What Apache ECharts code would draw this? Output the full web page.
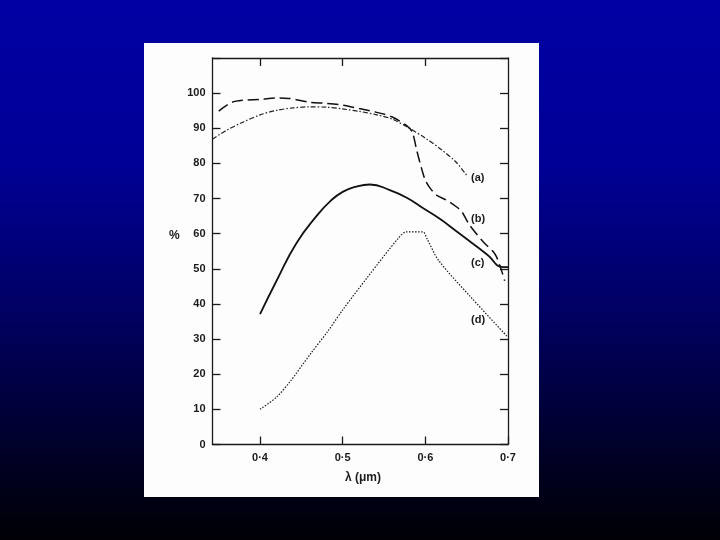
<!DOCTYPE html>
<html>
<head>
<meta charset="utf-8">
<script src="https://cdn.jsdelivr.net/npm/echarts@6/dist/echarts.min.js"></script>
<style>
html,body{margin:0;padding:0;background:#000;}
#chart{width:720px;height:540px;}
</style>
</head>
<body>
<div id="chart"></div>
<script>
// Wavelength (µm) and percentage values for each curve
const xA = [0.3425, 0.36, 0.38, 0.40, 0.42, 0.44, 0.46, 0.48, 0.50, 0.52, 0.54, 0.56, 0.577, 0.60, 0.62, 0.637, 0.651];
const yA = [86.9, 89.5, 91.8, 93.8, 95.1, 95.8, 96.1, 96.0, 95.5, 94.8, 93.9, 92.6, 90.5, 87.2, 83.8, 80.4, 76.3];

const xB = [0.35, 0.366, 0.38, 0.40, 0.42, 0.435, 0.46, 0.48, 0.50, 0.52, 0.54, 0.56, 0.577, 0.584, 0.590, 0.596, 0.600, 0.606, 0.614, 0.626, 0.638, 0.644, 0.654, 0.670, 0.684, 0.690, 0.696];
const yB = [94.9, 97.4, 98.0, 98.2, 98.6, 98.5, 97.4, 97.1, 96.6, 95.6, 94.6, 93.2, 90.8, 89.0, 83.3, 78.1, 75.2, 72.9, 70.9, 69.5, 67.6, 66.3, 62.3, 57.7, 54.3, 51.0, 46.6];

const xC = [0.40, 0.42, 0.444, 0.469, 0.486, 0.50, 0.515, 0.533, 0.557, 0.577, 0.597, 0.617, 0.636, 0.654, 0.675, 0.694, 0.70];
const yC = [37.1, 46.6, 57.3, 65.2, 69.5, 71.9, 73.3, 74.0, 72.4, 70.3, 67.3, 64.3, 61.0, 57.8, 54.0, 50.5, 50.5];

const xD = [0.40, 0.42, 0.437, 0.461, 0.481, 0.50, 0.53, 0.567, 0.577, 0.597, 0.602, 0.616, 0.656, 0.70];
const yD = [10, 13.5, 18.1, 25.8, 31.9, 38.3, 47.6, 58.6, 60.5, 60.5, 58.6, 52.4, 41.7, 30.5];

const xTicks = [0.4, 0.5, 0.6, 0.7];
const xTopTicks = [0.4, 0.5, 0.6];
const curveLabels = ['(a)', '(b)', '(c)', '(d)'];
const xAxisTitle = 'λ (μm)';
const yAxisTitle = '%';

const pairs = (xs, ys) => xs.map((x, i) => [x, ys[i]]);
const fmtX = v => v.toFixed(1).replace('.', '·');

const FONT = 'Liberation Sans, Arial, sans-serif';
const INK = '#1a1a1a';

const chart = echarts.init(document.getElementById('chart'), null, {renderer: 'canvas'});

const labelPos = [[471, 178], [471, 219], [471, 263], [471, 320]];

chart.setOption({
  animation: false,
  backgroundColor: 'transparent',
  graphic: [
    {
      type: 'rect', z: -20, silent: true,
      shape: {x: 0, y: 0, width: 720, height: 540},
      style: {
        fill: new echarts.graphic.LinearGradient(0, 0, 0, 1, [
          {offset: 0, color: '#0000a3'},
          {offset: 0.3, color: '#000096'},
          {offset: 0.55, color: '#000068'},
          {offset: 0.8, color: '#000030'},
          {offset: 1, color: '#000004'}
        ])
      }
    },
    {
      type: 'rect', z: -10, silent: true,
      shape: {x: 144, y: 43, width: 395, height: 454},
      style: {fill: '#fdfdfd'}
    },
    {
      type: 'text', left: 169, top: 230,
      style: {text: yAxisTitle, font: 'bold 12px ' + FONT, fill: INK}
    },
    {
      type: 'text', left: 345, top: 472,
      style: {text: xAxisTitle, font: 'bold 12px ' + FONT, fill: INK}
    }
  ].concat(curveLabels.map((t, i) => ({
    type: 'text', x: labelPos[i][0], y: labelPos[i][1],
    style: {text: t, font: 'bold 11px ' + FONT, fill: INK, verticalAlign: 'middle'}
  }))),
  grid: {left: 212.5, top: 58, right: 212, bottom: 95.5, containLabel: false},
  xAxis: [
    {
      type: 'value', min: 0.3425, max: 0.7, position: 'bottom',
      axisLine: {show: true, onZero: false, lineStyle: {color: INK, width: 1.3}},
      axisTick: {show: true, inside: true, length: 8, customValues: xTicks, lineStyle: {color: INK, width: 1.3}},
      axisLabel: {show: true, customValues: xTicks, formatter: fmtX, margin: 8,
                  fontFamily: FONT, fontSize: 11, fontWeight: 'bold', color: INK},
      splitLine: {show: false}
    },
    {
      type: 'value', min: 0.3425, max: 0.7, position: 'top',
      axisLine: {show: true, onZero: false, lineStyle: {color: INK, width: 1.3}},
      axisTick: {show: true, inside: true, length: 8, customValues: xTopTicks, lineStyle: {color: INK, width: 1.3}},
      axisLabel: {show: false},
      splitLine: {show: false}
    }
  ],
  yAxis: [
    {
      type: 'value', min: 0, max: 110, interval: 10, position: 'left',
      axisLine: {show: true, onZero: false, lineStyle: {color: INK, width: 1.3}},
      axisTick: {show: true, inside: true, length: 8, lineStyle: {color: INK, width: 1.3}},
      axisLabel: {show: true, margin: 7, fontFamily: FONT, fontSize: 11, fontWeight: 'bold', color: INK,
                  formatter: v => (v > 100 ? '' : String(v))},
      splitLine: {show: false}
    },
    {
      type: 'value', min: 0, max: 110, interval: 10, position: 'right',
      axisLine: {show: true, onZero: false, lineStyle: {color: INK, width: 1.3}},
      axisTick: {show: true, inside: true, length: 8, lineStyle: {color: INK, width: 1.3}},
      axisLabel: {show: false},
      splitLine: {show: false}
    }
  ],
  series: [
    {
      name: '(a)', type: 'line', data: pairs(xA, yA), smooth: 0.3, showSymbol: false,
      lineStyle: {color: '#222', width: 1.2, type: [5, 2, 1.5, 2]}
    },
    {
      name: '(b)', type: 'line', data: pairs(xB, yB), smooth: 0.3, showSymbol: false,
      lineStyle: {color: '#111', width: 1.5, type: [11, 5]}
    },
    {
      name: '(c)', type: 'line', data: pairs(xC, yC), smooth: 0.5, showSymbol: false,
      lineStyle: {color: '#111', width: 1.8, type: 'solid'}
    },
    {
      name: '(d)', type: 'line', data: pairs(xD, yD), smooth: 0.3, showSymbol: false,
      lineStyle: {color: '#1a1a1a', width: 1.2, type: [1.5, 1.5]}
    }
  ]
});
</script>
</body>
</html>
